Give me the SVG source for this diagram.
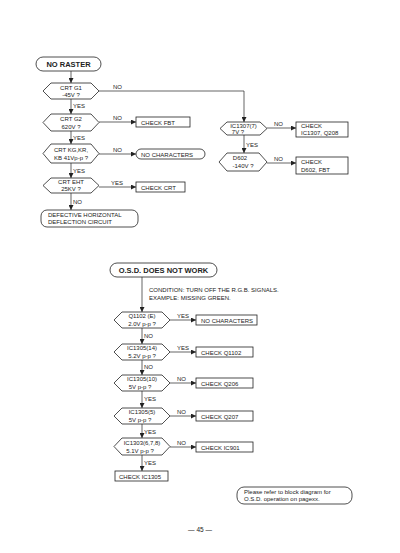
<svg xmlns="http://www.w3.org/2000/svg" width="400" height="553" viewBox="0 0 400 553">
<defs>
<marker id="ah" viewBox="0 0 6 6" refX="6" refY="3" markerWidth="5" markerHeight="5" orient="auto" markerUnits="userSpaceOnUse">
<path d="M0,0 L6,3 L0,6 z" fill="#222"/>
</marker>
<style>
.s{fill:#fff;stroke:#222;stroke-width:0.8}
.c{fill:none;stroke:#222;stroke-width:0.7;marker-end:url(#ah)}
.l{fill:none;stroke:#222;stroke-width:0.7}
text{font-family:"Liberation Sans",Arial,sans-serif;font-size:6px;fill:#222}
.m{text-anchor:middle}
.b{font-weight:bold;font-size:7.5px}
</style>
</defs>
<rect width="400" height="553" fill="#fff"/>

<g id="connectors">
<path class="c" d="M71,71 V83"/>
<path class="l" d="M99,91 H244"/>
<path class="c" d="M244,91 V122"/>
<path class="c" d="M71,99 V114"/>
<path class="c" d="M99,122 H136"/>
<path class="c" d="M71,131 V144"/>
<path class="c" d="M99,154 H136"/>
<path class="c" d="M71,163 V178"/>
<path class="c" d="M99,187 H136"/>
<path class="c" d="M71,193 V210"/>
<path class="c" d="M267,128 H296"/>
<path class="c" d="M244,135 V153"/>
<path class="c" d="M267,163 H296"/>

<path class="c" d="M142,277 V312"/>
<path class="c" d="M170,320 H196"/>
<path class="c" d="M142,328 V344"/>
<path class="c" d="M170,352 H196"/>
<path class="c" d="M142,360 V375"/>
<path class="c" d="M170,383 H196"/>
<path class="c" d="M142,391 V408"/>
<path class="c" d="M170,416 H196"/>
<path class="c" d="M142,424 V438"/>
<path class="c" d="M170,447 H196"/>
<path class="c" d="M142,455 V471"/>
</g>

<g id="labels">
<text x="113" y="89">NO</text>
<text x="73" y="108">YES</text>
<text x="113" y="120">NO</text>
<text x="73" y="140">YES</text>
<text x="113" y="152">NO</text>
<text x="73" y="173">YES</text>
<text x="111" y="185">YES</text>
<text x="73" y="204">NO</text>
<text x="274" y="126">NO</text>
<text x="246" y="147">YES</text>
<text x="274" y="161">NO</text>

<text x="177" y="318">YES</text>
<text x="144" y="338">NO</text>
<text x="177" y="350">YES</text>
<text x="144" y="369">NO</text>
<text x="177" y="381">NO</text>
<text x="144" y="401">YES</text>
<text x="177" y="414">NO</text>
<text x="144" y="434">YES</text>
<text x="177" y="445">NO</text>
<text x="144" y="465">YES</text>
</g>

<g id="no-raster">
<rect class="s" x="36" y="57" width="65" height="14" rx="7"/>
<text class="m b" x="68.5" y="67">NO RASTER</text>
</g>
<g id="crt-g1">
<polygon class="s" points="43,91 51,83 91,83 99,91 91,99 51,99"/>
<text class="m" x="71" y="90">CRT G1</text>
<text class="m" x="71" y="97">-45V ?</text>
</g>
<g id="crt-g2">
<polygon class="s" points="43,122.5 51,114 91,114 99,122.5 91,131 51,131"/>
<text class="m" x="71" y="121">CRT G2</text>
<text class="m" x="71" y="129">620V ?</text>
</g>
<g id="check-fbt">
<rect class="s" x="136" y="117" width="54" height="10"/>
<text x="141" y="124.5">CHECK FBT</text>
</g>
<g id="crt-kg">
<polygon class="s" points="43,153.5 51,144 91,144 99,153.5 91,163 51,163"/>
<text class="m" x="71" y="152">CRT KG,KR,</text>
<text class="m" x="71" y="160">KB 41Vp-p ?</text>
</g>
<g id="no-characters-1">
<rect class="s" x="136" y="149" width="69" height="10" rx="5"/>
<text x="141" y="156.5">NO CHARACTERS</text>
</g>
<g id="crt-eht">
<polygon class="s" points="43,185.5 51,178 91,178 99,185.5 91,193 51,193"/>
<text class="m" x="71" y="184">CRT EHT</text>
<text class="m" x="71" y="191">25KV ?</text>
</g>
<g id="check-crt">
<rect class="s" x="136" y="182" width="49" height="10"/>
<text x="141" y="189.5">CHECK CRT</text>
</g>
<g id="defective">
<rect class="s" x="41" y="210" width="97" height="17" rx="6"/>
<text x="48" y="217">DEFECTIVE HORIZONTAL</text>
<text x="48" y="224">DEFLECTION CIRCUIT</text>
</g>
<g id="ic1307">
<polygon class="s" points="220,128.5 227,122 260,122 267,128.5 260,135 227,135"/>
<text class="m" x="243.5" y="128">IC1307(7)</text>
<text class="m" x="238" y="134">7V ?</text>
</g>
<g id="check-ic1307">
<rect class="s" x="296" y="122" width="52" height="15"/>
<text x="301" y="128">CHECK</text>
<text x="301" y="134.5">IC1307, Q208</text>
</g>
<g id="d602">
<polygon class="s" points="219,162 227,153 259,153 267,162 259,171 227,171"/>
<text class="m" x="240" y="160">D602</text>
<text class="m" x="243" y="168">-140V ?</text>
</g>
<g id="check-d602">
<rect class="s" x="296" y="157" width="52" height="17"/>
<text x="301" y="164">CHECK</text>
<text x="301" y="171.5">D602, FBT</text>
</g>

<g id="osd">
<rect class="s" x="110" y="263" width="107" height="14" rx="7"/>
<text class="m b" x="163.5" y="273">O.S.D. DOES NOT WORK</text>
</g>
<g id="condition">
<text x="149" y="292">CONDITION: TURN OFF THE R.G.B. SIGNALS.</text>
<text x="149" y="299.5">EXAMPLE: MISSING GREEN.</text>
</g>
<g id="q1102">
<polygon class="s" points="114,320 122,312 162,312 170,320 162,328 122,328"/>
<text class="m" x="142" y="318">Q1102 (E)</text>
<text class="m" x="142" y="326">2.0V p-p ?</text>
</g>
<g id="no-characters-2">
<rect class="s" x="196" y="315" width="61" height="10"/>
<text x="201" y="322.5">NO CHARACTERS</text>
</g>
<g id="ic1305-14">
<polygon class="s" points="114,352 122,344 162,344 170,352 162,360 122,360"/>
<text class="m" x="142" y="350">IC1305(14)</text>
<text class="m" x="142" y="358">5.2V p-p ?</text>
</g>
<g id="check-q1102">
<rect class="s" x="196" y="347" width="57" height="10"/>
<text x="201" y="354.5">CHECK Q1102</text>
</g>
<g id="ic1305-10">
<polygon class="s" points="114,383 122,375 162,375 170,383 162,391 122,391"/>
<text class="m" x="142" y="381">IC1305(10)</text>
<text class="m" x="140" y="389">5V p-p ?</text>
</g>
<g id="check-q206">
<rect class="s" x="196" y="378" width="57" height="10"/>
<text x="201" y="385.5">CHECK Q206</text>
</g>
<g id="ic1305-5">
<polygon class="s" points="114,416 122,408 162,408 170,416 162,424 122,424"/>
<text class="m" x="142" y="414">IC1305(5)</text>
<text class="m" x="140" y="422">5V p-p ?</text>
</g>
<g id="check-q207">
<rect class="s" x="196" y="411" width="57" height="10"/>
<text x="201" y="418.5">CHECK Q207</text>
</g>
<g id="ic1303">
<polygon class="s" points="114,446.5 122,438 162,438 170,446.5 162,455 122,455"/>
<text class="m" x="142" y="445">IC1303(6,7,8)</text>
<text class="m" x="140" y="453">5.1V p-p ?</text>
</g>
<g id="check-ic901">
<rect class="s" x="196" y="442" width="57" height="10"/>
<text x="201" y="449.5">CHECK IC901</text>
</g>
<g id="check-ic1305">
<rect class="s" x="115" y="471" width="53" height="10"/>
<text x="119" y="478.5">CHECK IC1305</text>
</g>

<g id="note">
<rect class="s" x="237" y="487" width="115" height="17" rx="7"/>
<text x="244" y="494">Please refer to block diagram for</text>
<text x="244" y="501">O.S.D. operation on pagexx.</text>
</g>
<g id="page">
<text class="m" x="200" y="532" style="font-size:6.5px">— 45 —</text>
</g>
</svg>
